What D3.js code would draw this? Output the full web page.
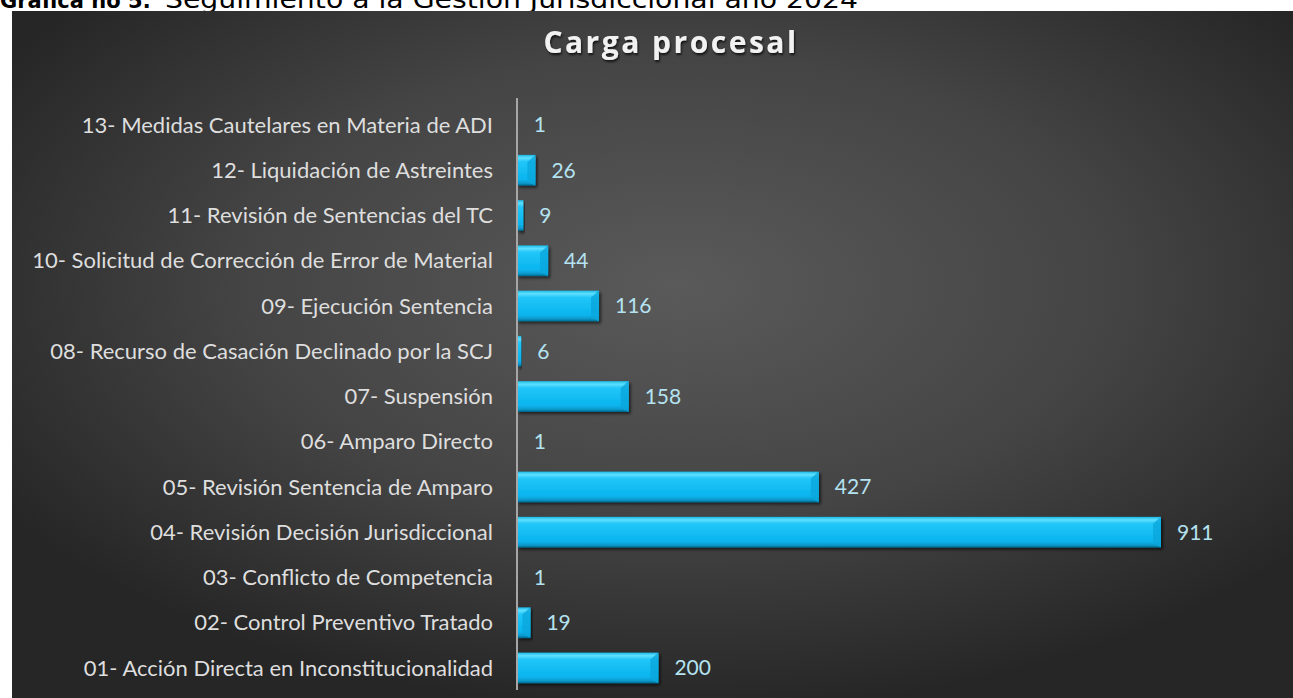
<!DOCTYPE html>
<html>
<head>
<meta charset="utf-8">
<script src="https://cdn.jsdelivr.net/npm/d3@7"></script>
<style>
  body { margin: 0; background: #fff; }
  svg { display: block; }
</style>
</head>
<body>
<div id="chart"></div>
<script>
// categories from top to bottom as shown
var categories = [
    "13- Medidas Cautelares en Materia de ADI",
    "12- Liquidación de Astreintes",
    "11- Revisión de Sentencias del TC",
    "10- Solicitud de Corrección de Error de Material",
    "09- Ejecución Sentencia",
    "08- Recurso de Casación Declinado por la SCJ",
    "07- Suspensión",
    "06- Amparo Directo",
    "05- Revisión Sentencia de Amparo",
    "04- Revisión Decisión Jurisdiccional",
    "03- Conflicto de Competencia",
    "02- Control Preventivo Tratado",
    "01- Acción Directa en Inconstitucionalidad"
];
var values = [1, 26, 9, 44, 116, 6, 158, 1, 427, 911, 1, 19, 200];

var headerBold = "Gráfica no 5:";
var headerText = "Seguimiento a la Gestión Jurisdiccional año 2024";
var title = "Carga procesal";

var W = 1293, H = 698;

var svg = d3.select("#chart")
    .append("svg")
    .attr("width", W)
    .attr("height", H);

var defs = svg.append("defs");

// dark background gradient
var bg = defs.append("radialGradient")
    .attr("id", "bg")
    .attr("cx", "52%").attr("cy", "40%").attr("r", "62%");
bg.append("stop").attr("offset", "0%").attr("stop-color", "#5a5a5a");
bg.append("stop").attr("offset", "55%").attr("stop-color", "#444444");
bg.append("stop").attr("offset", "100%").attr("stop-color", "#262626");

// bar gradient (bevel look)
var bar = defs.append("linearGradient")
    .attr("id", "barGrad")
    .attr("x1", 0).attr("y1", 0).attr("x2", 0).attr("y2", 1);
bar.append("stop").attr("offset", "0%").attr("stop-color", "#1ab8e6");
bar.append("stop").attr("offset", "10%").attr("stop-color", "#5fe0ff");
bar.append("stop").attr("offset", "22%").attr("stop-color", "#22c6f8");
bar.append("stop").attr("offset", "80%").attr("stop-color", "#08b4ee");
bar.append("stop").attr("offset", "92%").attr("stop-color", "#0797c9");
bar.append("stop").attr("offset", "100%").attr("stop-color", "#05688c");

var shadow = defs.append("filter").attr("id", "shadow")
    .attr("x", "-5%").attr("y", "-20%").attr("width", "120%").attr("height", "160%");
shadow.append("feDropShadow")
    .attr("dx", 2).attr("dy", 2).attr("stdDeviation", 1.5)
    .attr("flood-color", "#000").attr("flood-opacity", 0.6);

var txtShadow = defs.append("filter").attr("id", "txtShadow");
txtShadow.append("feDropShadow")
    .attr("dx", 1).attr("dy", 2).attr("stdDeviation", 1.2)
    .attr("flood-color", "#000").attr("flood-opacity", 0.7);

// header text, partly hidden above the top of the picture
var header = svg.append("text")
    .attr("y", 8)
    .attr("font-family", "DejaVu Sans")
    .style("font-size", "21px")
    .style("fill", "#000");
header.append("tspan").attr("x", 0).attr("font-weight", "bold").text(headerBold);
header.append("tspan")
    .attr("x", 165)
    .attr("textLength", 693)
    .attr("lengthAdjust", "spacingAndGlyphs")
    .style("font-size", "24px")
    .text(headerText);

// chart area
svg.append("rect")
    .attr("x", 12).attr("y", 11)
    .attr("width", W - 12).attr("height", H - 11)
    .attr("fill", "url(#bg)");

svg.append("text")
    .attr("x", 671)
    .attr("y", 53)
    .attr("text-anchor", "middle")
    .attr("font-family", "Open Sans")
    .attr("font-weight", "bold")
    .attr("letter-spacing", "2.5px")
    .attr("filter", "url(#txtShadow)")
    .style("font-size", "30px")
    .style("fill", "#f2f2f2")
    .text(title);

var xScale = d3.scaleLinear()
    .domain([0, 911])
    .range([517, 1161]);

var yScale = d3.scaleBand()
    .domain(categories)
    .range([102.4, 690.6])
    .paddingInner(0.32)
    .paddingOuter(0.16);

var data = categories.map(function(c, i) {
    return { cat: c, value: values[i] };
});

// category labels
svg.selectAll(".cat")
    .data(data)
    .enter()
    .append("text")
    .attr("class", "cat")
    .attr("x", 493)
    .attr("y", function(d) { return yScale(d.cat) + yScale.bandwidth() / 2; })
    .attr("dy", "0.35em")
    .attr("text-anchor", "end")
    .attr("font-family", "Lato")
    .style("font-size", "22px")
    .style("fill", "#dedede")
    .text(function(d) { return d.cat; });

// bars
svg.selectAll(".bar")
    .data(data)
    .enter()
    .append("rect")
    .attr("class", "bar")
    .attr("x", xScale(0))
    .attr("y", function(d) { return yScale(d.cat); })
    .attr("width", function(d) { return xScale(d.value) - xScale(0); })
    .attr("height", yScale.bandwidth())
    .attr("fill", "url(#barGrad)")
    .attr("filter", "url(#shadow)");

// right bevel edge
svg.selectAll(".bevel")
    .data(data.filter(function(d) { return xScale(d.value) - xScale(0) > 8; }))
    .enter()
    .append("path")
    .attr("class", "bevel")
    .attr("d", function(d) {
        var x1 = xScale(d.value), y0 = yScale(d.cat), h = yScale.bandwidth();
        return "M" + x1 + "," + y0 + " L" + (x1 - 8) + "," + (y0 + 7) +
            " L" + (x1 - 8) + "," + (y0 + h - 4) + " L" + x1 + "," + (y0 + h) + "Z";
    })
    .attr("fill", "#0aa6dc")
    .attr("opacity", 0.8);

// axis line
svg.append("line")
    .attr("x1", xScale(0)).attr("x2", xScale(0))
    .attr("y1", 98).attr("y2", 690)
    .style("stroke", "#a6a6a6")
    .style("stroke-width", 2);

// value labels
svg.selectAll(".val")
    .data(data)
    .enter()
    .append("text")
    .attr("class", "val")
    .attr("x", function(d) { return xScale(d.value) + 16; })
    .attr("y", function(d) { return yScale(d.cat) + yScale.bandwidth() / 2; })
    .attr("dy", "0.35em")
    .attr("font-family", "Lato")
    .style("font-size", "21px")
    .style("fill", "#b4e2f0")
    .text(function(d) { return d.value; });
</script>
</body>
</html>
